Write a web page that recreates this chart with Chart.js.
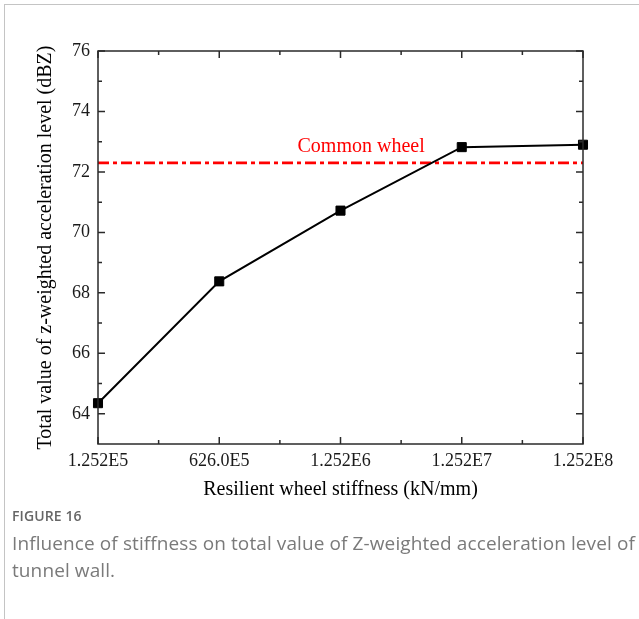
<!DOCTYPE html>
<html>
<head>
<meta charset="utf-8">
<script src="https://cdn.jsdelivr.net/npm/chart.js@4/dist/chart.umd.min.js"></script>
<style>
  html, body { margin: 0; padding: 0; background: #fff; }
  body { width: 639px; height: 619px; position: relative; overflow: hidden; }
  .frame-top { position: absolute; left: 4px; top: 4px; right: 0; height: 0; border-top: 1px solid #c4c4c4; }
  .frame-left { position: absolute; left: 4px; top: 4px; bottom: 0; width: 0; border-left: 1px solid #c4c4c4; }
  #chart { position: absolute; left: 0; top: 0; }
  .caption { position: absolute; left: 12px; top: 507px; width: 627px; font-family: "Open Sans", "Noto Sans", sans-serif; color: #707070; }
  .caption .fig { font-size: 14px; font-weight: 600; color: #666; line-height: 18px; letter-spacing: 0.1px; }
  .caption .txt { font-size: 19px; line-height: 27px; margin-top: 5px; font-weight: 400; color: #7a7a7a; letter-spacing: 0.1px; }
</style>
</head>
<body>
<div class="frame-top"></div>
<div class="frame-left"></div>
<canvas id="chart" width="639" height="510"></canvas>
<div class="caption">
  <div class="fig">FIGURE 16</div>
  <div class="txt">Influence of stiffness on total value of Z-weighted acceleration level of tunnel wall.</div>
</div>
<script>
// Resilient wheel stiffness levels (kN/mm)
const stiffnessLabels = ['1.252E5', '626.0E5', '1.252E6', '1.252E7', '1.252E8'];
// Total Z-weighted acceleration level of the tunnel wall (dBZ)
const zLevels = [64.35, 68.38, 70.72, 72.82, 72.90];
// Reference level for the common (non-resilient) wheel
const commonWheelLevel = 72.3;
const commonWheelName = 'Common wheel';
// Y axis range and labelled ticks
const yMin = 63, yMax = 76;
const yTickValues = [64, 66, 68, 70, 72, 74, 76];
const yMinorValues = [65, 67, 69, 71, 73, 75];

const serif = '"Liberation Serif", "Times New Roman", serif';

// Boxed frame with inward major/minor ticks on all four sides, plus the reference label
const framePlugin = {
  id: 'frameTicks',
  afterDatasetsDraw(chart) {
    const { ctx, chartArea: a, scales: { x, y } } = chart;
    ctx.save();
    ctx.strokeStyle = '#2a2a2a';
    ctx.lineWidth = 1.5;
    ctx.strokeRect(a.left, a.top, a.right - a.left, a.bottom - a.top);
    const major = 7, minor = 4;
    ctx.beginPath();
    // x ticks: majors at categories, minors halfway between
    for (let i = 0; i < stiffnessLabels.length; i++) {
      const px = x.getPixelForValue(i);
      ctx.moveTo(px, a.bottom); ctx.lineTo(px, a.bottom - major);
      ctx.moveTo(px, a.top); ctx.lineTo(px, a.top + major);
      if (i < stiffnessLabels.length - 1) {
        const pm = x.getPixelForValue(i + 0.5);
        ctx.moveTo(pm, a.bottom); ctx.lineTo(pm, a.bottom - minor);
        ctx.moveTo(pm, a.top); ctx.lineTo(pm, a.top + minor);
      }
    }
    yTickValues.forEach(v => {
      const py = y.getPixelForValue(v);
      ctx.moveTo(a.left, py); ctx.lineTo(a.left + major, py);
      ctx.moveTo(a.right, py); ctx.lineTo(a.right - major, py);
    });
    yMinorValues.forEach(v => {
      const py = y.getPixelForValue(v);
      ctx.moveTo(a.left, py); ctx.lineTo(a.left + minor, py);
      ctx.moveTo(a.right, py); ctx.lineTo(a.right - minor, py);
    });
    ctx.stroke();

    // reference line label
    ctx.fillStyle = '#ff0000';
    ctx.font = '20px ' + serif;
    ctx.textAlign = 'center';
    ctx.textBaseline = 'alphabetic';
    ctx.fillText(commonWheelName, x.getPixelForValue(2.17), y.getPixelForValue(commonWheelLevel) - 11);
    ctx.restore();
  }
};

new Chart(document.getElementById('chart'), {
  type: 'line',
  data: {
    labels: stiffnessLabels,
    datasets: [
      {
        label: 'Resilient wheel',
        data: zLevels,
        borderColor: '#000',
        backgroundColor: '#000',
        borderWidth: 2,
        pointStyle: 'rect',
        pointRadius: 6.4,
        pointBorderWidth: 1,
        tension: 0,
        order: 1
      },
      {
        label: commonWheelName,
        data: stiffnessLabels.map(() => commonWheelLevel),
        borderColor: '#ff0000',
        borderWidth: 2.7,
        borderDash: [11, 4, 4, 4],
        pointRadius: 0,
        tension: 0,
        order: 2
      }
    ]
  },
  options: {
    responsive: false,
    devicePixelRatio: 1,
    animation: false,
    layout: { padding: { top: 51, right: 56, left: 0, bottom: 0 } },
    plugins: { legend: { display: false }, tooltip: { enabled: false } },
    scales: {
      x: {
        type: 'category',
        offset: false,
        grid: { display: false, drawTicks: false },
        border: { display: false },
        ticks: { font: { family: serif, size: 18 }, color: '#1a1a1a', padding: 6, maxRotation: 0, autoSkip: false },
        title: { display: true, text: 'Resilient wheel stiffness (kN/mm)', font: { family: serif, size: 20 }, color: '#000', padding: { top: 0, bottom: 8 } },
        afterFit(s) { s.height = 66; }
      },
      y: {
        type: 'linear',
        min: yMin,
        max: yMax,
        grid: { display: false, drawTicks: false },
        border: { display: false },
        afterBuildTicks(s) { s.ticks = yTickValues.map(v => ({ value: v })); },
        ticks: { font: { family: serif, size: 18 }, color: '#1a1a1a', padding: 8 },
        title: { display: true, text: 'Total value of z-weighted acceleration level (dBZ)', font: { family: serif, size: 20 }, color: '#000', padding: { top: 34, bottom: 0 } },
        afterFit(s) { s.width = 98; }
      }
    }
  },
  plugins: [framePlugin]
});
</script>
</body>
</html>
